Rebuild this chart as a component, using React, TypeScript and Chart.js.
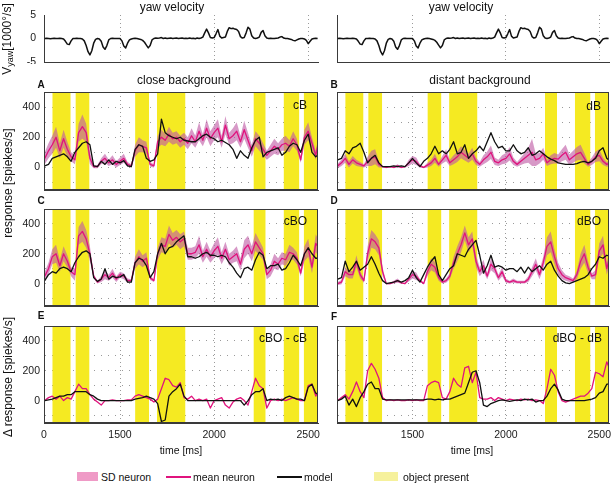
import React, { useEffect, useRef } from "react";
import { Chart, registerables } from "chart.js";
Chart.register(...registerables);

const FONT = "'Liberation Sans', Arial, Helvetica, sans-serif";
Chart.defaults.font.family = FONT;

// ---------- data ----------
const X_MIN = 1096;
const X_MAX = 2552;
const RESP_T0 = 1100; // ms, sampling grid of response traces
const RESP_DT = 20;
const YAW_T0 = 1100;
const YAW_DT = 10;

const xTicks = [1500, 2000, 2500];
const xTicksBottomLeft = [X_MIN, 1500, 2000, 2500];
const xTickLabelsBottomLeft = ["0", "1500", "2000", "2500"];
const yawTicks = [-5, 0, 5];
const respGridTicks = [-100, 0, 100, 200, 300, 400];
const respLabelTicks = [0, 200, 400];

const objectStart = [1140, 1263, 1580, 1696, 2209, 2369, 2476];
const objectEnd = [1238, 1338, 1655, 1848, 2274, 2453, 2552];

const yawVelocity = [
  0, 0.05, 0, -0.05, 0, 0.05, 0, 0, 0.05, 0,
  -0.1, -0.6, -1.2, -1.3, -0.5, 0, 0, 0.05, 0, 0,
  -0.1, -0.5, -1.5, -2.8, -3.5, -2.6, -1.0, -0.2, 0, -0.1,
  -0.6, -1.8, -2.3, -1.5, -0.3, 0, 0.05, 0, 0, 0,
  0, -0.5, -1.6, -2.0, -1.0, -0.3, -0.1, 0, 0.05, 0,
  -0.1, -0.2, -0.4, -0.8, -1.4, -2.0, -1.5, -0.3, 0, 0.1,
  0.05, 0.1, 0.2, 0, 0.1, 0, 0.05, 0.1, 0, 0.05,
  0.1, 0, 0.05, 0.1, 0, 0.05, 0, 0.1, 0, 0.05,
  -0.05, 0.1, 0, 0.1, 0.3, 1.2, 2.0, 1.2, 0.2, 0.1,
  0.2, 1.0, 1.9, 0.5, 0.1, 0.2, 0.3, 1.5, 2.3, 2.1,
  2.2, 2.0, 1.9, 1.5, 0.4, 0.1, 0.2, 1.2, 2.4, 2.0,
  0.6, 0.1, 0, 0.1, 0.3, 1.3, 1.7, 0.6, 0.1, 0,
  0.05, 0, 0, 0.05, 0.1, 0.3, 0.4, 0.1, 0, 0,
  -0.1, -0.2, -0.4, -0.5, -0.3, -0.1, 0, 0, -0.1, -0.4,
  -1.1, -0.6, -0.1, 0, 0.05, 0,
];

// A: close background (cB)
const meanA = [
  60, 110, 150, 200, 110, 190, 120, 70, 50, 230,
  270, 230, 60, 5, 5, 40, 60, 30, 50, 20,
  40, 60, 20, 10, 110, 150, 140, 130, 20, 10,
  170, 200, 180, 220, 190, 200, 170, 190, 160, 210,
  170, 240, 180, 260, 190, 230, 260, 170, 280, 190,
  210, 240, 170, 250, 180, 110, 190, 160, 120, 80,
  110, 140, 120, 150, 160, 140, 190, 150, 50, 200,
  240, 160, 80, 200,
];
const sdA = [
  40, 50, 60, 70, 50, 60, 50, 30, 30, 60,
  80, 60, 40, 10, 10, 20, 30, 20, 30, 20,
  25, 30, 15, 10, 40, 50, 40, 40, 15, 10,
  40, 50, 40, 50, 40, 40, 40, 40, 40, 50,
  40, 60, 40, 60, 50, 50, 60, 40, 60, 40,
  50, 60, 40, 60, 50, 40, 50, 50, 40, 30,
  40, 50, 40, 40, 50, 40, 50, 40, 20, 50,
  60, 40, 30, 40,
];
const modelA = [
  10, 20, 60, 70, 80, 90, 70, 40, 100, 130,
  160, 170, 150, 10, 5, 40, 20, 50, 20, 40,
  30, 45, 10, 5, 120, 150, 140, 60, 40, 50,
  90, 320, 230, 210, 200, 190, 200, 180, 175, 170,
  170, 190, 210, 220, 200, 190, 170, 180, 165, 150,
  120, 60, 110, 80, 60, 130, 180, 200, 70, 100,
  110, 120, 130, 80, 100, 140, 160, 150, 100, 180,
  220, 100, 70, 90,
];

// B: distant background (dB)
const meanB = [
  10, 30, 60, 20, 50, 30, 20, 10, 40, 60,
  70, 20, 5, 0, 5, 0, 10, 0, 5, 30,
  50, 40, 10, 0, 15, 30, 60, 20, 50, 80,
  30, 50, 70, 100, 80, 60, 90, 40, 20, 50,
  70, 100, 40, 30, 50, 60, 90, 40, 20, 40,
  60, 80, 100, 50, 60, 90, 30, 50, 60, 55,
  80, 100, 50, 70, 90, 100, 60, 20, 40, 70,
  80, 40, 20, 30,
];
const sdB = [
  15, 20, 30, 20, 25, 20, 15, 10, 30, 50,
  50, 20, 5, 5, 5, 5, 10, 5, 5, 20,
  25, 25, 10, 5, 15, 20, 30, 15, 25, 40,
  20, 30, 35, 40, 35, 30, 40, 25, 15, 30,
  35, 45, 25, 20, 30, 35, 45, 25, 15, 25,
  35, 50, 90, 40, 35, 40, 20, 30, 35, 30,
  40, 50, 35, 40, 45, 50, 35, 15, 25, 35,
  40, 25, 15, 20,
];
const modelB = [
  50, 60, 110, 90, 130, 140, 160, 100, 30, 60,
  80, 30, 5, 5, 5, 10, 5, 10, 5, 30,
  60, 30, 5, 40, 60, 90, 140, 90, 110, 90,
  120, 170, 90, 100, 150, 60, 90, 110, 140, 110,
  170, 230, 170, 130, 140, 110, 110, 150, 110, 90,
  100, 130, 80, 90, 110, 90, 70, 55, 45, 30,
  25, 20, 20, 20, 25, 35, 40, 30, 40, 60,
  110, 130, 60, 40,
];

// C: close background + object (cBO)
const meanC = [
  50, 100, 180, 200, 120, 200, 150, 80, 60, 320,
  350, 300, 200, 50, 10, 30, 60, 40, 70, 30,
  60, 50, 20, 20, 140, 180, 150, 170, 40, 20,
  200, 260, 250, 330, 290, 310, 280, 300, 200, 200,
  210, 260, 180, 230, 180, 220, 250, 170, 230, 160,
  180, 200, 130, 230, 260, 200, 280, 240, 200, 60,
  90, 150, 130, 170, 160, 210, 200, 170, 70, 200,
  240, 110, 270, 230,
];
const sdC = [
  30, 40, 50, 60, 40, 50, 40, 30, 40, 60,
  70, 60, 50, 15, 10, 20, 30, 20, 30, 20,
  20, 20, 15, 10, 40, 50, 40, 40, 15, 10,
  40, 50, 50, 60, 50, 50, 50, 50, 40, 40,
  40, 60, 40, 50, 40, 50, 60, 40, 50, 40,
  40, 50, 40, 60, 60, 50, 60, 50, 40, 30,
  40, 50, 40, 40, 40, 50, 40, 40, 20, 50,
  60, 40, 60, 50,
];
const modelC = [
  20, 60, 80, 70, 100, 110, 100, 80, 140, 180,
  210, 220, 200, 40, 15, 30, 100, 30, 50, 40,
  45, 60, 10, 10, 140, 170, 160, 120, 40, 80,
  200, 270, 200, 240, 250, 280, 300, 320, 180, 180,
  170, 180, 200, 210, 190, 190, 180, 190, 180, 140,
  110, 70, 40, 100, 110, 90, 160, 210, 190, 100,
  120, 120, 130, 90, 100, 140, 190, 160, 120, 200,
  240, 200, 170, 170,
];

// D: distant background + object (dBO)
const meanD = [
  0, 10, 80, 60, 60, 150, 60, 20, 200, 300,
  280, 240, 80, 0, 0, 10, 20, 5, 0, 30,
  60, 50, 20, 0, 80, 130, 110, 40, 10, 20,
  50, 140, 200, 260, 340, 260, 300, 150, 80, 120,
  50, 130, 100, 40, 80, 20, 10, 20, 10, 10,
  10, 30, 80, 130, 60, 140, 250, 280, 180, 100,
  60, 40, 30, 20, 60, 150, 200, 110, 50, 60,
  220, 260, 100, 200,
];
const sdD = [
  10, 15, 30, 25, 25, 40, 25, 15, 50, 60,
  50, 50, 30, 5, 5, 10, 15, 5, 5, 15,
  25, 25, 10, 5, 30, 40, 35, 20, 10, 15,
  20, 40, 50, 50, 50, 50, 50, 40, 30, 40,
  20, 40, 30, 20, 30, 15, 10, 15, 10, 10,
  10, 20, 30, 40, 30, 40, 60, 70, 50, 40,
  30, 20, 20, 15, 30, 50, 60, 40, 20, 30,
  50, 60, 40, 50,
];
const modelD = [
  30, 40, 150, 80, 110, 150, 90, 110, 130, 180,
  130, 70, 20, 0, 5, 10, 20, 10, 20, 40,
  90, 40, 10, 60, 110, 150, 180, 60, 20, 60,
  100, 120, 200, 190, 180, 230, 260, 290, 190, 70,
  120, 190, 110, 120, 110, 90, 100, 100, 80, 110,
  70, 110, 80, 100, 120, 90, 130, 150, 90, 50,
  20, 5, 0, 10, 20, 30, 40, 60, 100, 130,
  180, 170, 190, 180,
];

// E: cBO - cB
const meanE = [
  0, 20, 30, 10, 30, 0, 20, 10, 60, 110,
  80, 80, 40, 10, -10, -30, 0, 0, 5, 0,
  0, 0, 5, 5, 30, 40, 30, 20, 10, -10,
  10, 80, 150, 140, 100, 90, 120, 20, 10, 30,
  0, 10, 0, 10, -50, 0, 10, 20, -30, -50,
  -10, 10, 20, 0, -30, 60, 150, 100, 80, -50,
  0, 10, 0, 10, 0, 10, 20, 10, 0, 0,
  100, 110, 30, 80,
];
const modelE = [
  0, 5, 10, 20, 30, 30, 40, 40, 60, 60,
  60, 60, 40, 30, 10, 0, 0, 0, 0, 0,
  0, 0, 0, 0, 10, 15, 20, 30, 20, 10,
  -20, -140, -130, 30, 60, 80, 110, 30, 0, 0,
  0, 0, 0, 0, 0, 0, 0, 0, 0, 0,
  0, 0, 0, -30, 0, 40, 60, 60, 80, 0,
  10, 5, 10, 0, 20, 30, 20, 10, 10, 0,
  90, 110, 50, 40,
];

// F: dBO - dB
const meanF = [
  0, 20, 40, 10, 60, 125, 60, 20, 200, 250,
  210, 150, 20, 0, 5, 0, 5, 0, 0, 5,
  0, 5, 0, 0, 100, 120, 130, 120, 20, 10,
  60, 150, 110, 90, 220, 230, 120, 190, 20, 10,
  10, 20, 0, 20, 10, 0, 10, 5, 0, 10,
  5, 10, 0, 5, 0, -20, 80, 210, 170, 60,
  0, -10, 0, 10, 20, 30, 30, 50, 80, 190,
  180, 160, 260, 200,
];
const modelF = [
  0, 10, 30, -30, 10, -40, 20, 60, 110, 125,
  80, 80, 10, 5, 5, 5, 5, 5, 5, 5,
  5, 5, 5, 5, 10, 10, 5, 10, 5, 10,
  10, 20, 30, 40, 50, 120, 190, 200, 120, -30,
  -40, -20, -10, 0, 5, 0, -5, 0, 5, 0,
  10, 5, 10, -10, 0, 0, 30, 80, 110, 70,
  10, 0, 0, 0, 0, 0, 0, 5, 10, 20,
  50, 60, 110, 110,
];

// ---------- style ----------
const GRID_COLOR = "#9a9a9a";
const AXIS_COLOR = "#3a3a3a";
const TICK_COLOR = "#1a1a1a";
const YELLOW = "#f5ea22";
const SD_FILL = "rgba(190, 90, 165, 0.62)";
const MEAN_COLOR = "#e0137d";
const MODEL_COLOR = "#111111";
const RESP_MIN = -150;
const RESP_MAX = 500;

const toPoints = (t0: number, dt: number, vals: number[]) =>
  vals.map((v, i) => ({ x: t0 + dt * i, y: v }));

const boxPlugin = {
  id: "panelBox",
  afterDraw(chart: any) {
    const { ctx, chartArea } = chart;
    const l = Math.round(chartArea.left) + 0.5;
    const t = Math.round(chartArea.top) + 0.5;
    const r = Math.round(chartArea.right) - 0.5;
    const b = Math.round(chartArea.bottom) - 0.5;
    ctx.save();
    ctx.strokeStyle = AXIS_COLOR;
    ctx.lineWidth = 1;
    ctx.strokeRect(l, t, r - l, b - t);
    ctx.restore();
  },
};

function makeXScale(tickValues: number[], tickLabels: string[] | null, xAxisH: number) {
  return {
    type: "linear",
    min: X_MIN,
    max: X_MAX,
    afterBuildTicks: (s: any) => {
      s.ticks = tickValues.map((v) => ({ value: v }));
    },
    afterFit: (s: any) => {
      s.height = xAxisH;
      s.paddingLeft = 0;
      s.paddingRight = 0;
      s.paddingTop = 0;
      s.paddingBottom = 0;
    },
    grid: { color: GRID_COLOR, lineWidth: 1, drawTicks: false },
    border: { color: AXIS_COLOR, width: 1, dash: [1, 3] },
    ticks: {
      display: !!tickLabels,
      padding: 6,
      color: TICK_COLOR,
      autoSkip: false,
      maxRotation: 0,
      minRotation: 0,
      font: { family: FONT, size: 10.5 },
      callback: (v: number) => {
        const i = tickValues.indexOf(v);
        return tickLabels && i >= 0 ? tickLabels[i] : "";
      },
    },
  };
}

function makeYScale(
  min: number,
  max: number,
  gridValues: number[],
  labelValues: number[],
  showLabels: boolean,
  yAxisW: number,
  showGrid: boolean,
  pad: number
) {
  return {
    type: "linear",
    min,
    max,
    afterBuildTicks: (s: any) => {
      s.ticks = gridValues.map((v) => ({ value: v }));
    },
    afterFit: (s: any) => {
      s.width = yAxisW;
      s.paddingTop = 0;
      s.paddingBottom = 0;
      s.paddingLeft = 0;
      s.paddingRight = 0;
    },
    grid: { display: showGrid, color: GRID_COLOR, drawTicks: false },
    border: { color: AXIS_COLOR, width: 1, dash: [1, 6] },
    ticks: {
      display: showLabels,
      padding: pad,
      color: TICK_COLOR,
      autoSkip: false,
      font: { family: FONT, size: 10.5 },
      callback: (v: number) => (labelValues.includes(v) ? String(v) : ""),
    },
  };
}

const commonOptions = {
  animation: false,
  responsive: false,
  maintainAspectRatio: false,
  devicePixelRatio: 1,
  events: [],
  layout: { padding: { top: 10, right: 2, left: 0, bottom: 0 } },
  plugins: { legend: { display: false }, tooltip: { enabled: false }, title: { display: false } },
  elements: { point: { radius: 0 }, line: { tension: 0 } },
};

type Col = { left: number; width: number; yAxisW: number; showY: boolean };
type Row = { top: number; plotH: number; xAxisH: number };

const LEFT_COL: Col = { left: 0, width: 320, yAxisW: 44, showY: true };
const RIGHT_COL: Col = { left: 320, width: 291, yAxisW: 17, showY: false };
const ROW_YAW: Row = { top: 5, plotH: 47, xAxisH: 2 };
const ROW_1: Row = { top: 82, plotH: 98, xAxisH: 2 };
const ROW_2: Row = { top: 199, plotH: 97, xAxisH: 2 };
const ROW_3: Row = { top: 316, plotH: 97, xAxisH: 22 };

function yawConfig(col: Col, row: Row) {
  return {
    type: "line",
    data: {
      datasets: [
        {
          data: toPoints(YAW_T0, YAW_DT, yawVelocity),
          borderColor: MODEL_COLOR,
          borderWidth: 1.5,
          pointRadius: 0,
          fill: false,
          borderJoinStyle: "round",
        },
      ],
    },
    options: {
      ...commonOptions,
      scales: {
        x: makeXScale(xTicks, null, row.xAxisH),
        y: makeYScale(-5, 5, yawTicks, yawTicks, col.showY, col.yAxisW, false, 8),
      },
    },
  };
}

function respConfig(
  col: Col,
  row: Row,
  mean: number[],
  model: number[],
  sd: number[] | null,
  xTickVals: number[],
  xTickLabels: string[] | null
) {
  const datasets: any[] = [
    {
      data: toPoints(RESP_T0, RESP_DT, model),
      borderColor: MODEL_COLOR,
      borderWidth: 1.3,
      pointRadius: 0,
      fill: false,
      order: 0,
      borderJoinStyle: "round",
    },
    {
      data: toPoints(RESP_T0, RESP_DT, mean),
      borderColor: MEAN_COLOR,
      borderWidth: 1.3,
      pointRadius: 0,
      fill: false,
      order: 1,
      borderJoinStyle: "round",
    },
  ];
  if (sd) {
    datasets.push({
      data: toPoints(RESP_T0, RESP_DT, mean.map((m, i) => m + sd[i])),
      borderWidth: 0,
      borderColor: "rgba(0,0,0,0)",
      backgroundColor: SD_FILL,
      pointRadius: 0,
      fill: "+1",
      order: 2,
    });
    datasets.push({
      data: toPoints(RESP_T0, RESP_DT, mean.map((m, i) => m - sd[i])),
      borderWidth: 0,
      borderColor: "rgba(0,0,0,0)",
      pointRadius: 0,
      fill: false,
      order: 3,
    });
  }
  objectStart.forEach((s, i) => {
    datasets.push({
      data: [
        { x: s, y: RESP_MAX },
        { x: objectEnd[i], y: RESP_MAX },
      ],
      borderWidth: 0,
      borderColor: "rgba(0,0,0,0)",
      backgroundColor: YELLOW,
      pointRadius: 0,
      fill: "start",
      order: 10,
    });
  });
  return {
    type: "line",
    data: { datasets },
    options: {
      ...commonOptions,
      scales: {
        x: makeXScale(xTickVals, xTickLabels, row.xAxisH),
        y: makeYScale(RESP_MIN, RESP_MAX, respGridTicks, respLabelTicks, col.showY, col.yAxisW, true, 4),
      },
    },
    plugins: [boxPlugin],
  };
}

function ChartCanvas({ col, row, build }: { col: Col; row: Row; build: () => any }) {
  const ref = useRef<HTMLCanvasElement | null>(null);
  const height = 10 + row.plotH + row.xAxisH;
  useEffect(() => {
    if (!ref.current) return;
    const chart = new Chart(ref.current, build());
    return () => chart.destroy();
  }, []);
  return (
    <canvas
      ref={ref}
      width={col.width}
      height={height}
      style={{ position: "absolute", left: col.left, top: row.top, width: col.width, height, display: "block" }}
    />
  );
}

function Txt({
  x,
  y,
  size = 12,
  bold = false,
  anchor = "center",
  rotate = false,
  children,
}: {
  x: number;
  y: number;
  size?: number;
  bold?: boolean;
  anchor?: "center" | "left" | "right";
  rotate?: boolean;
  children: any;
}) {
  const tx = anchor === "center" ? "-50%" : anchor === "right" ? "-100%" : "0";
  return (
    <div
      style={{
        position: "absolute",
        left: x,
        top: y,
        transform: `translate(${tx}, -50%)${rotate ? " rotate(-90deg)" : ""}`,
        fontFamily: FONT,
        fontSize: size,
        fontWeight: bold ? "bold" : "normal",
        lineHeight: 1,
        whiteSpace: "nowrap",
        color: "#111",
        zIndex: 2,
      }}
    >
      {children}
    </div>
  );
}

export default function App() {
  return (
    <div
      style={{
        position: "absolute",
        left: 0,
        top: 0,
        width: 611,
        height: 484,
        background: "#fff",
        overflow: "hidden",
      }}
    >
      <ChartCanvas col={LEFT_COL} row={ROW_YAW} build={() => yawConfig(LEFT_COL, ROW_YAW)} />
      <ChartCanvas col={RIGHT_COL} row={ROW_YAW} build={() => yawConfig(RIGHT_COL, ROW_YAW)} />
      <ChartCanvas col={LEFT_COL} row={ROW_1} build={() => respConfig(LEFT_COL, ROW_1, meanA, modelA, sdA, xTicks, null)} />
      <ChartCanvas col={RIGHT_COL} row={ROW_1} build={() => respConfig(RIGHT_COL, ROW_1, meanB, modelB, sdB, xTicks, null)} />
      <ChartCanvas col={LEFT_COL} row={ROW_2} build={() => respConfig(LEFT_COL, ROW_2, meanC, modelC, sdC, xTicks, null)} />
      <ChartCanvas col={RIGHT_COL} row={ROW_2} build={() => respConfig(RIGHT_COL, ROW_2, meanD, modelD, sdD, xTicks, null)} />
      <ChartCanvas
        col={LEFT_COL}
        row={ROW_3}
        build={() => respConfig(LEFT_COL, ROW_3, meanE, modelE, null, xTicksBottomLeft, xTickLabelsBottomLeft)}
      />
      <ChartCanvas
        col={RIGHT_COL}
        row={ROW_3}
        build={() => respConfig(RIGHT_COL, ROW_3, meanF, modelF, null, xTicks, xTicks.map(String))}
      />

      <Txt x={172} y={7}>yaw velocity</Txt>
      <Txt x={461} y={7}>yaw velocity</Txt>
      <Txt x={184} y={80}>close background</Txt>
      <Txt x={480} y={80}>distant background</Txt>

      <Txt x={41} y={85} size={10} bold>A</Txt>
      <Txt x={334} y={85} size={10} bold>B</Txt>
      <Txt x={41} y={201} size={10} bold>C</Txt>
      <Txt x={334} y={201} size={10} bold>D</Txt>
      <Txt x={41} y={316} size={10} bold>E</Txt>
      <Txt x={334} y={317} size={10} bold>F</Txt>

      <Txt x={307} y={105} anchor="right">cB</Txt>
      <Txt x={601} y={106} anchor="right">dB</Txt>
      <Txt x={307} y={221} anchor="right">cBO</Txt>
      <Txt x={601} y={221} anchor="right">dBO</Txt>
      <Txt x={307} y={338} anchor="right">cBO - cB</Txt>
      <Txt x={602} y={338} anchor="right">dBO - dB</Txt>

      <Txt x={8} y={39} rotate>
        V<sub style={{ fontSize: 9, verticalAlign: "-2px" }}>yaw</sub>[1000°/s]
      </Txt>
      <Txt x={8} y={183} rotate>response [spiekes/s]</Txt>
      <Txt x={8} y={377} rotate>Δ response [spiekes/s]</Txt>

      <Txt x={181} y={450} size={10.5}>time [ms]</Txt>
      <Txt x={472} y={450} size={10.5}>time [ms]</Txt>

      <div style={{ position: "absolute", left: 77, top: 472, width: 21, height: 9, background: "#ef9ac6" }} />
      <Txt x={101} y={477} size={10.5} anchor="left">SD neuron</Txt>
      <div style={{ position: "absolute", left: 166, top: 476, width: 25, height: 1.5, background: MEAN_COLOR }} />
      <Txt x={193} y={477} size={10.5} anchor="left">mean neuron</Txt>
      <div style={{ position: "absolute", left: 277, top: 476, width: 25, height: 1.5, background: MODEL_COLOR }} />
      <Txt x={304} y={477} size={10.5} anchor="left">model</Txt>
      <div style={{ position: "absolute", left: 374, top: 472, width: 24, height: 9, background: "#f6f19c" }} />
      <Txt x={403} y={477} size={10.5} anchor="left">object present</Txt>
    </div>
  );
}
